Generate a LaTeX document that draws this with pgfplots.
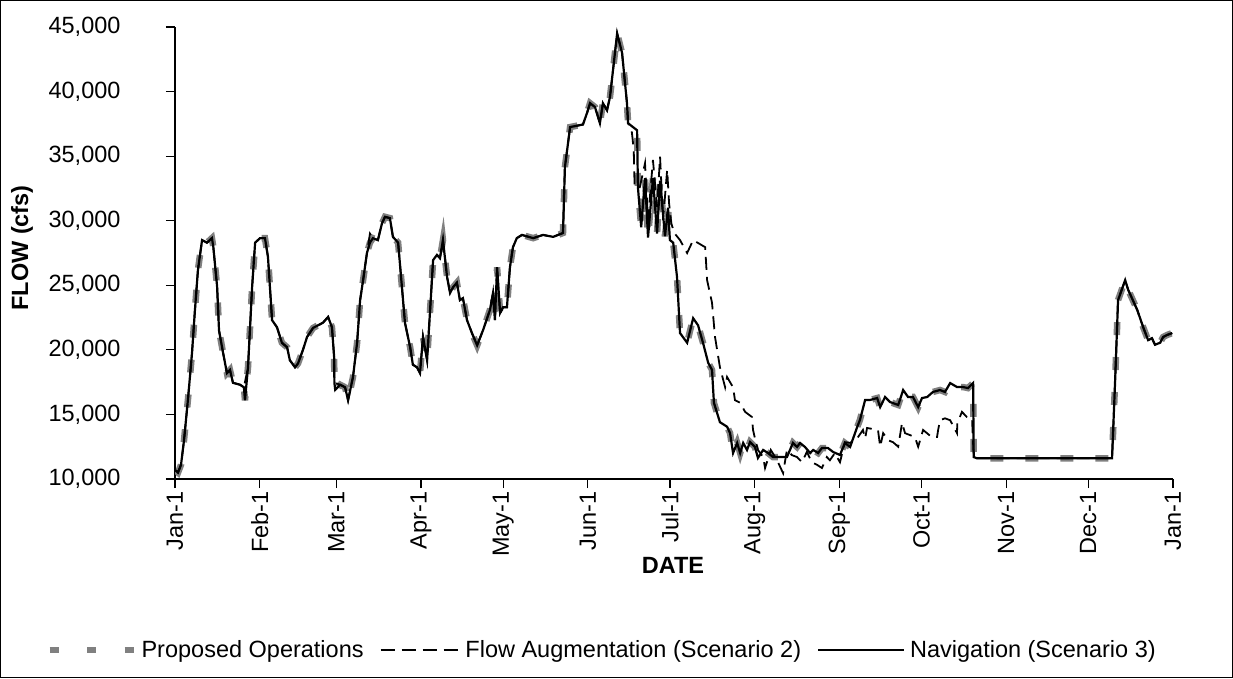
\documentclass[border=0pt]{standalone}
\usepackage{fontspec}
\setmainfont{Liberation Sans}
\usepackage{pgfplots}
\pgfplotsset{compat=1.18}
\usepackage{pgfplotstable}

% Daily flow (cfs) by day of year; day 0 = Jan-1
\pgfplotstableread{
day flow
0.0 10700
1.1 10500
2.2 11100
3.3 13000
4.8 16300
6.2 19700
7.3 23100
8.4 26200
9.9 28500
11.7 28300
13.5 28650
14.0 28000
15.4 24900
16.1 21500
17.6 19750
19.0 18200
20.1 18450
21.2 17450
23.8 17300
25.2 17100
25.6 16100
26.7 18650
28.2 24850
29.3 28300
31.1 28650
32.9 28650
34.0 27200
35.5 22300
37.3 21750
39.1 20550
41.0 20200
42.0 19200
43.9 18650
45.0 18950
46.8 20000
48.3 21000
50.5 21700
54.1 22100
56.0 22550
57.4 21750
58.2 19450
58.3 17450
58.6 16900
60.4 17300
62.2 17100
63.3 16100
65.1 17900
66.6 20550
67.7 23850
68.8 25400
70.2 27500
71.3 28300
72.4 28650
74.2 28500
75.7 29800
76.8 30300
78.6 30200
79.7 28750
81.6 28300
83.0 24850
84.1 22100
86.0 20200
87.0 18850
88.5 18650
89.6 18200
90.7 21000
92.2 19200
93.3 23100
94.4 26950
95.8 27350
96.9 27100
98.0 28500
99.5 25650
100.6 24400
101.7 24850
103.1 25200
104.2 23850
105.3 24000
106.8 22300
108.6 21300
110.5 20350
112.7 21550
115.2 23100
116.3 24400
117.0 22300
117.8 26400
118.9 22850
120.0 23300
121.4 23300
122.5 26400
123.6 27950
125.0 28650
126.9 28900
131.0 28650
134.6 28900
138.3 28750
141.9 29050
142.6 34150
144.5 37250
149.2 37450
150.7 38350
151.8 39100
153.6 38800
155.4 37550
156.5 39100
158.0 38550
159.1 39600
161.7 44500
163.5 43000
165.3 39100
165.7 37550
169.0 37000
169.3 32600
170.5 29500
171.9 33300
173.0 28700
174.8 33300
176.3 29000
177.4 33100
179.2 28800
180.3 31000
181.0 28500
182.2 28300
183.6 25650
184.7 21300
187.3 20550
189.5 22450
191.3 21900
193.1 20550
195.0 19000
196.4 18450
197.1 15900
199.3 14400
201.9 14050
203.0 13560
204.1 12010
205.6 12790
206.7 12010
207.8 12790
209.2 12250
210.3 12860
212.1 12480
213.2 11630
215.1 12250
216.9 12010
218.7 11700
221.3 11700
223.8 11700
226.0 12790
227.5 12480
228.6 12790
230.4 12480
232.3 12010
233.4 12250
235.2 12010
236.6 12400
238.8 12400
240.7 12090
243.2 11860
245.0 12790
246.9 12480
249.5 14030
250.5 14570
252.4 16120
254.2 16120
256.8 16270
257.9 15570
259.7 16350
261.5 15960
264.5 15730
266.3 16890
268.1 16350
269.9 16350
271.8 15570
273.2 16270
275.1 16350
277.2 16740
279.8 16890
281.6 16740
283.5 17430
286.0 17120
288.2 17120
290.0 17040
291.9 17430
292.1 11700
293.3 11600
342.7 11600
343.8 17450
344.9 23850
347.5 25400
348.6 24650
351.9 23100
354.1 21750
355.9 20750
357.3 20900
358.4 20400
360.3 20550
361.4 21000
362.8 21150
364.7 21300
}\navtable

\pgfplotstableread{
day flow
0.0 10700
1.1 10500
2.2 11100
3.3 13000
4.8 16300
6.2 19700
7.3 23100
8.4 26200
9.9 28500
11.7 28300
13.5 28650
14.0 28000
15.4 24900
16.1 21500
17.6 19750
19.0 18200
20.1 18450
21.2 17450
23.8 17300
25.2 17100
26.7 18650
28.2 24850
29.3 28300
31.1 28650
32.9 28650
34.0 27200
35.5 22300
37.3 21750
39.1 20550
41.0 20200
42.0 19200
43.9 18650
45.0 18950
46.8 20000
48.3 21000
50.5 21700
54.1 22100
56.0 22550
57.4 21750
58.2 19450
58.3 17450
60.4 17300
62.2 17100
63.3 16100
65.1 17900
66.6 20550
67.7 23850
68.8 25400
70.2 27500
71.3 29000
72.4 28650
74.2 28500
75.7 29800
76.8 30300
78.6 30200
79.7 28750
81.6 28300
83.0 24850
84.1 22100
86.0 20200
87.0 18850
88.5 18650
89.6 18200
90.7 21000
92.2 19200
93.3 23100
94.4 26950
95.8 27350
96.9 27100
98.0 28500
99.5 25650
100.6 24400
101.7 24850
103.1 25200
104.2 23850
105.3 24000
106.8 22300
108.6 21300
110.5 20350
112.7 21550
115.2 23100
116.3 24400
117.0 22300
117.8 26400
118.9 22850
120.0 23300
121.4 23300
122.5 26400
123.6 27950
125.0 28650
126.9 28900
131.0 28650
134.6 28900
138.3 28750
141.9 29050
142.6 34150
144.5 37250
149.2 37450
150.7 38350
151.8 39100
153.6 38800
155.4 37550
156.5 39100
158.0 38550
159.1 39600
161.7 44500
163.5 43000
165.3 39100
165.7 37550
167.0 37000
167.4 36250
167.8 35250
168.1 32600
170.0 32600
171.9 34450
173.0 30050
174.8 34700
176.3 31050
177.4 34950
178.5 30050
180.0 33950
180.7 31350
181.5 29800
182.6 29050
184.7 28500
187.3 27500
189.5 28500
193.9 27950
194.6 25400
196.4 23650
197.5 21000
199.3 18650
201.2 17100
201.9 17900
204.1 17100
204.8 16100
206.7 15900
208.5 15200
211.0 14800
211.4 13800
212.1 13150
213.2 12250
215.1 11700
215.8 10850
217.9 12250
220.2 11450
222.4 10450
223.8 12250
225.6 11850
227.5 11700
229.3 11300
231.1 12100
232.9 11300
234.8 11100
236.6 10850
238.4 11700
239.5 11450
241.3 12000
243.2 11300
245.0 12850
246.9 12800
249.5 13150
251.6 13800
252.4 13150
253.1 13950
257.1 13800
257.9 12500
259.0 13550
260.8 13000
262.6 12850
264.5 12500
265.9 14350
267.0 13550
268.8 13400
270.6 13250
271.8 12500
273.6 13800
276.7 13250
278.7 13250
279.1 13800
279.8 14550
281.6 14700
283.5 14550
286.0 13550
286.1 14300
287.8 15200
289.6 14800
291.5 14700
292.1 11700
293.3 11600
342.7 11600
343.8 17450
344.9 23850
347.5 25400
348.6 24650
351.9 23100
354.1 21750
355.9 20750
357.3 20900
358.4 20400
360.3 20550
361.4 21000
362.8 21150
364.7 21300
}\augtable

\definecolor{propgray}{RGB}{128,128,128}
\newcommand{\chartfont}{\fontsize{23.5}{28}\selectfont}

\begin{document}
\begin{tikzpicture}[x=1pt,y=1pt]
\useasboundingbox (0,0) rectangle (1233,678);
\draw[line width=1pt] (0.5,0.5) rectangle (1232.5,677.5);
\begin{axis}[
  at={(175pt,199pt)}, anchor=south west,
  scale only axis, width=998pt, height=452pt,
  xmin=0, xmax=365, ymin=10000, ymax=45000,
  axis lines*=left,
  axis line style={line width=1.5pt},
  xtick={0,31,59,90,120,151,181,212,243,273,304,334,365},
  xticklabels={Jan-1,Feb-1,Mar-1,Apr-1,May-1,Jun-1,Jul-1,Aug-1,Sep-1,Oct-1,Nov-1,Dec-1,Jan-1},
  ytick={10000,15000,20000,25000,30000,35000,40000,45000},
  scaled y ticks=false,
  yticklabel style={xshift=-42pt,
    /pgf/number format/.cd,1000 sep={,},assume math mode=true},
  tick align=outside,
  major tick length=9pt,
  tick style={black, line width=1.2pt},
  ticklabel style={font=\chartfont},
  xticklabel style={rotate=90, anchor=east},
  legend columns=3,
  legend style={at={(0.428,-0.378)}, anchor=center, draw=none, fill=none,
    inner sep=0pt, font=\chartfont,
    /tikz/every odd column/.style={column sep=3pt},
    /tikz/every even column/.style={column sep=14pt}},
  legend cell align=left,
]
\addplot[propgray, line width=6.5pt, dash pattern=on 13pt off 22pt,
  legend image code/.code={\draw[propgray, line width=6pt, dash pattern=on 9pt off 28.5pt] (0pt,0pt) -- (84pt,0pt);}]
  table[x=day,y=flow] {\navtable};
\addlegendentry{Proposed Operations}
\addplot[black, line width=1.8pt, dash pattern=on 13pt off 7pt,
  legend image code/.code={\draw[black, line width=1.8pt, dash pattern=on 14pt off 7pt] (0pt,0pt) -- (79pt,0pt);}]
  table[x=day,y=flow] {\augtable};
\addlegendentry{Flow Augmentation (Scenario 2)}
\addplot[black, line width=2.2pt,
  legend image code/.code={\draw[black, line width=2pt] (0pt,0pt) -- (86pt,0pt);}]
  table[x=day,y=flow] {\navtable};
\addlegendentry{Navigation (Scenario 3)}
\end{axis}
\node[rotate=90, font=\bfseries\chartfont] at (22,430) {FLOW (cfs)};
\node[font=\bfseries\chartfont] at (673,113) {DATE};
\end{tikzpicture}
\end{document}
